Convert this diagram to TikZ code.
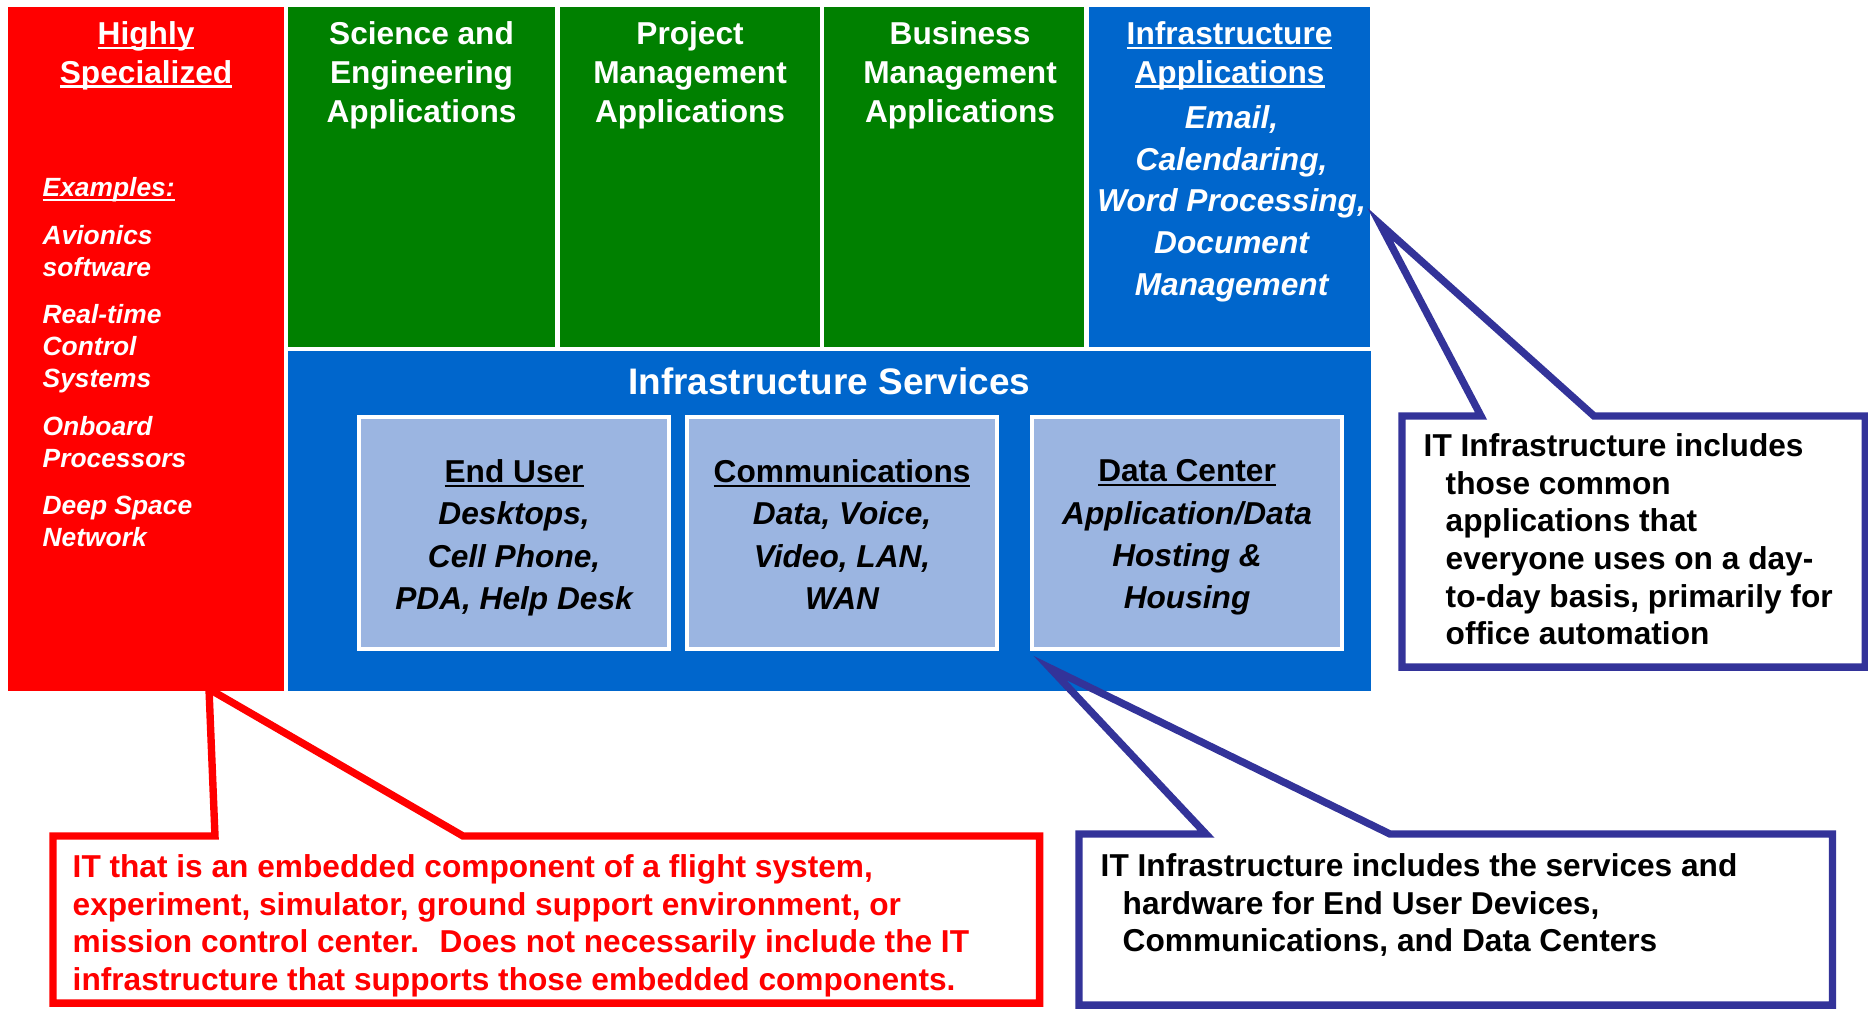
\documentclass[tikz,border=0pt]{standalone}
\usepackage{fontspec}
\setmainfont{Liberation Sans}
\usetikzlibrary{positioning,calc}

\definecolor{itred}{HTML}{FF0000}
\definecolor{itgreen}{HTML}{008000}
\definecolor{itblue}{HTML}{0066CC}
\definecolor{itlight}{HTML}{9BB5E1}
\definecolor{itnavy}{HTML}{333399}

\newsavebox{\ulbox}
\newcommand{\uln}[1]{\sbox{\ulbox}{#1}\rlap{\rule[-1.2pt]{\wd\ulbox}{0.6pt}}\usebox{\ulbox}}
\newcommand{\ind}{\hspace*{0.22cm}}

\begin{document}
\begin{tikzpicture}[
        x=0.01cm, y=-0.01cm,
        font=\bfseries\fontsize{9}{11}\selectfont,
        tile/.style={anchor=north west, inner sep=0pt, outer sep=0pt},
        top/.style={tile, minimum height=3.4cm},
        inbox/.style={tile, fill=itlight, draw=white, line width=1.1pt,
            minimum width=3.1cm, minimum height=2.32cm},
        txt/.style={inner sep=0pt, align=center, text=white},
        intxt/.style={inner sep=0pt, align=center, text=black,
            font=\bfseries\itshape\fontsize{9}{12}\selectfont},
        calltxt/.style={inner sep=0pt, align=left,
            font=\bfseries\fontsize{9}{10.7}\selectfont},
        callline/.style={line width=2.1pt, line join=miter}
    ]
    \useasboundingbox (0,0) rectangle (1868,1008);

    % Kacheln
    \node[tile, fill=itred, minimum width=2.76cm, minimum height=6.84cm] (spec) at (8,7) {};
    \node[top, fill=itgreen, minimum width=2.67cm] (sci) at (288,7) {};
    \node[top, fill=itgreen, minimum width=2.6cm] (proj) at (560,7) {};
    \node[top, fill=itgreen, minimum width=2.6cm] (bus) at (824,7) {};
    \node[top, fill=itblue, minimum width=2.81cm] (infapp) at (1089,7) {};
    \node[top, fill=itblue, minimum width=10.82cm] (infsvc) at (288,351) {};

    \node[inbox] (enduser) at (359,417) {};
    \node[inbox] (comm) at (687,417) {};
    \node[inbox] (datac) at (1032,417) {};

    % Texte
    \node[txt, below=0.14cm of spec.north] (spectitle) {\uln{Highly}\\\uln{Specialized}};
    \node[txt, anchor=north west, align=left,
          font=\bfseries\itshape\fontsize{7.5}{9.1}\selectfont] (specex) at (42,177)
        {\uln{Examples:}\\[4.4pt]Avionics\\software\\[4.4pt]Real-time\\Control\\Systems\\[4.4pt]%
         Onboard\\Processors\\[4.4pt]Deep Space\\Network};

    \node[txt, below=0.14cm of sci.north] (scitxt) {Science and\\Engineering\\Applications};
    \node[txt, below=0.14cm of proj.north] (projtxt) {Project\\Management\\Applications};
    \node[txt, below=0.14cm of bus.north, xshift=0.06cm] (bustxt) {Business\\Management\\Applications};
    \node[txt, below=0.14cm of infapp.north] (infapptitle) {\uln{Infrastructure}\\\uln{Applications}};
    \node[txt, below=0.14cm of infapptitle, xshift=0.02cm,
          font=\bfseries\itshape\fontsize{9}{11.9}\selectfont] (infappitems)
        {Email,\\Calendaring,\\Word Processing,\\Document\\Management};

    \node[txt, below=0.16cm of infsvc.north,
          font=\bfseries\fontsize{10.5}{12}\selectfont] (infsvctitle) {Infrastructure Services};
    \node[intxt, below=0.42cm of enduser.north] (endusertxt)
        {\textup{\uln{End User}}\\Desktops,\\Cell Phone,\\PDA, Help Desk};
    \node[intxt, below=0.42cm of comm.north] (commtxt)
        {\textup{\uln{Communications}}\\Data, Voice,\\Video, LAN,\\WAN};
    \node[intxt, below=0.42cm of datac.north] (datactxt)
        {\textup{\uln{Data Center}}\\Application/Data\\Hosting \&\\Housing};

    % Sprechblasen
    \node[tile, minimum width=9.86cm, minimum height=1.67cm] (embcall) at (53,836) {};
    \node[calltxt, text=itred, below right=0.18cm and 0.19cm of embcall.north west] (embtxt)
        {IT that is an embedded component of a flight system,\\
         experiment, simulator, ground support environment, or\\
         mission control center.~ Does not necessarily include the IT\\
         infrastructure that supports those embedded components.};
    \coordinate (embtip) at (209,689);
    \draw[callline, draw=itred] (embcall.north west) -- ++(162,0) -- (embtip)
        -- ($(embcall.north west)+(410,0)$) -- (embcall.north east)
        -- (embcall.south east) -- (embcall.south west) -- cycle;

    \node[tile, minimum width=7.53cm, minimum height=1.71cm] (infcall) at (1079,834) {};
    \node[calltxt, below right=0.19cm and 0.21cm of infcall.north west] (infcalltxt)
        {IT Infrastructure includes the services and\\
         \ind hardware for End User Devices,\\
         \ind Communications, and Data Centers};
    \coordinate (infcalltip) at (1050,668);
    \draw[callline, draw=itnavy] (infcall.north west) -- ++(127,0) -- (infcalltip)
        -- ($(infcall.north west)+(311,0)$) -- (infcall.north east)
        -- (infcall.south east) -- (infcall.south west) -- cycle;

    \node[tile, minimum width=4.63cm, minimum height=2.51cm] (appcall) at (1402,416) {};
    \node[calltxt, below right=0.17cm and 0.21cm of appcall.north west] (appcalltxt)
        {IT Infrastructure includes\\
         \ind those common\\
         \ind applications that\\
         \ind everyone uses on a day-\\
         \ind to-day basis, primarily for\\
         \ind office automation};
    \coordinate (appcalltip) at (1380,224);
    \draw[callline, draw=itnavy] (appcall.north west) -- ++(79,0) -- (appcalltip)
        -- ($(appcall.north west)+(192,0)$) -- (appcall.north east)
        -- (appcall.south east) -- (appcall.south west) -- cycle;

\end{tikzpicture}
\end{document}
